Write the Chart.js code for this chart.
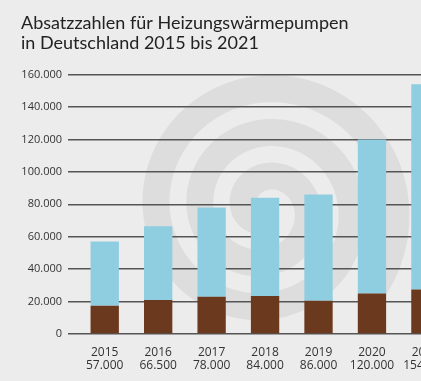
<!DOCTYPE html>
<html lang="de">
<head>
    <meta charset="UTF-8">
    <title>Absatzzahlen Heizungswärmepumpen</title>
    <script src="https://cdn.jsdelivr.net/npm/chart.js"></script>
    <style>
        html, body { margin: 0; padding: 0; background: #ececec; overflow: hidden; }
        #pumpChart { display: block; }
    </style>
</head>
<body>
    <canvas id="pumpChart" width="460" height="381"></canvas>

    <script>
        // Jahre und Gesamtabsatz (Beschriftung unter den Balken)
        const years = ['2015', '2016', '2017', '2018', '2019', '2020', '2021'];
        const totals = ['57.000', '66.500', '78.000', '84.000', '86.000', '120.000', '154.000'];

        // Erdreich (braun, unten) und Luft (hellblau, oben) - aus dem Bild geschaetzt
        const groundValues = [17500, 21000, 23000, 23500, 20500, 25000, 27500];
        const airValues = [39500, 45500, 55000, 60500, 65500, 95000, 126500];

        const yTicks = [0, 20000, 40000, 60000, 80000, 100000, 120000, 140000, 160000];

        const labels = years.map((y, i) => [y, totals[i]]);

        // grey spiral watermark behind the chart
        const spiralBg = {
            id: 'spiralBg',
            beforeDraw(chart) {
                const ctx = chart.ctx;
                const area = chart.chartArea;
                const cx = area.left + 187;
                const cy = area.top + 134;
                ctx.save();
                ctx.strokeStyle = '#dddddd';
                ctx.lineWidth = 27;
                ctx.lineCap = 'round';
                ctx.beginPath();
                for (let t = 0; t <= Math.PI * 5.7; t += 0.05) {
                    const r = 10 + 7 * t;
                    const x = cx + r * Math.cos(t + 1.6);
                    const y = cy + r * Math.sin(t + 1.6);
                    if (t === 0) ctx.moveTo(x, y); else ctx.lineTo(x, y);
                }
                ctx.stroke();
                ctx.restore();
            }
        };

        const config = {
            type: 'bar',
            data: {
                labels: labels,
                datasets: [{
                    label: 'Erdreich',
                    data: groundValues,
                    backgroundColor: '#6b3a1e'
                }, {
                    label: 'Luft',
                    data: airValues,
                    backgroundColor: '#8fcde0'
                }]
            },
            options: {
                responsive: false,
                animation: false,
                layout: { padding: { left: 21, right: 6, top: 0, bottom: 9 } },
                plugins: {
                    legend: { display: false },
                    tooltip: { enabled: false },
                    title: {
                        display: true,
                        text: ['Absatzzahlen für Heizungswärmepumpen', 'in Deutschland 2015 bis 2021'],
                        align: 'start',
                        color: '#222',
                        font: { family: 'Lato', size: 18, weight: 'normal', lineHeight: 1.1 },
                        padding: { top: 13, bottom: 22 }
                    }
                },
                datasets: {
                    bar: { categoryPercentage: 1, barPercentage: 0.53 }
                },
                scales: {
                    x: {
                        stacked: true,
                        afterFit(scale) { scale.height = 38; },
                        grid: { display: false, drawTicks: false },
                        border: { display: false },
                        ticks: {
                            color: '#333',
                            padding: 12,
                            font: { family: 'Open Sans', size: 12, lineHeight: 1.1 }
                        }
                    },
                    y: {
                        stacked: true,
                        min: 0,
                        max: 160000,
                        afterFit(scale) { scale.width = 57; },
                        afterBuildTicks(scale) { scale.ticks = yTicks.map(v => ({ value: v })); },
                        grid: { color: '#555', lineWidth: 1.5, tickLength: 10, tickColor: '#555' },
                        border: { display: false },
                        ticks: {
                            color: '#333',
                            padding: 6,
                            font: { family: 'Open Sans', size: 11 },
                            callback: v => v.toLocaleString('de-DE')
                        }
                    }
                }
            },
            plugins: [spiralBg]
        };

        new Chart(document.getElementById('pumpChart'), config);
    </script>
</body>
</html>
